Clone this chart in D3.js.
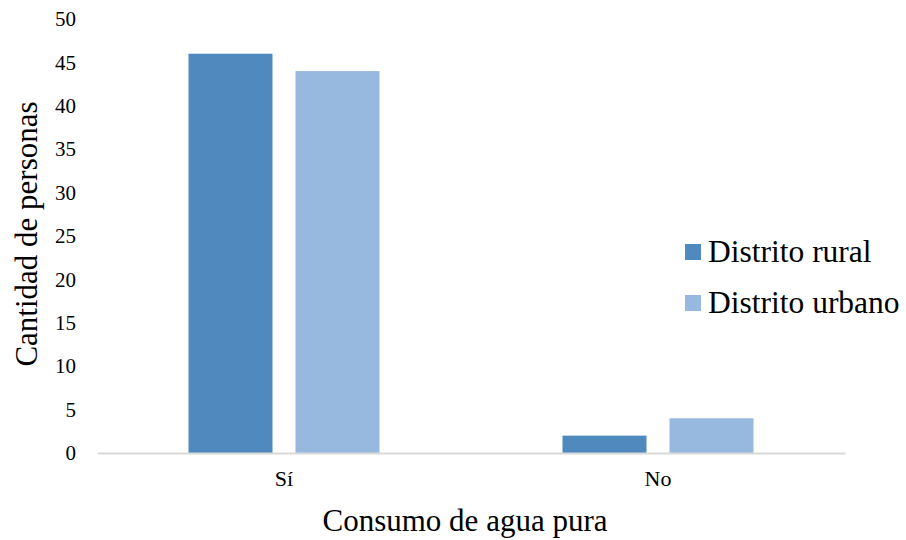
<!DOCTYPE html>
<html>
<head>
<meta charset="utf-8">
<script src="https://cdn.jsdelivr.net/npm/d3@7"></script>
<style>
  svg text { font-family: 'Times New Roman' !important; }
</style>
</head>
<body style="margin:0">
<svg id="chart" width="906" height="540"></svg>
<script>
// Categories, series and values
const categories = ["Sí", "No"];
const seriesNames = ["Distrito rural", "Distrito urbano"];
const rural = [46, 2];
const urbano = [44, 4];
const yTicks = [0, 5, 10, 15, 20, 25, 30, 35, 40, 45, 50];
const seriesColors = ["#4f89bd", "#98b9df"];

const svg = d3.select("#chart");
const plot = { left: 97, right: 845, top: 19, bottom: 453 };

const x0 = d3.scaleBand().domain(categories).range([plot.left, plot.right]).padding(0);
const x1 = d3.scaleBand().domain(seriesNames).range([0, x0.bandwidth()])
  .paddingInner(0.215).paddingOuter(0.855);
const y = d3.scaleLinear().domain([0, 50]).range([plot.bottom, plot.top]);

const rows = categories.map((c, i) => ({
  category: c,
  values: [
    { series: seriesNames[0], value: rural[i] },
    { series: seriesNames[1], value: urbano[i] }
  ]
}));

// Bars
const groups = svg.append("g").selectAll("g").data(rows).join("g")
  .attr("transform", d => `translate(${x0(d.category)},0)`);
groups.selectAll("rect").data(d => d.values).join("rect")
  .attr("x", d => x1(d.series))
  .attr("y", d => y(d.value))
  .attr("width", x1.bandwidth())
  .attr("height", d => y(0) - y(d.value))
  .attr("fill", (d, i) => seriesColors[i]);

// Baseline axis
const xAxis = d3.axisBottom(x0).tickSize(0).tickPadding(17);
const gx = svg.append("g").attr("transform", `translate(0,${y(0)})`).call(xAxis);
gx.attr("font-size", 22);
gx.select(".domain").attr("stroke", "#d9d9d9").attr("stroke-width", 2);
gx.selectAll("text").attr("fill", "#000").style("font-family", "'Times New Roman'");

// Value axis (labels only)
const yAxis = d3.axisLeft(y).tickValues(yTicks).tickSize(0).tickPadding(0);
const gy = svg.append("g").attr("transform", `translate(76,0)`).call(yAxis);
gy.attr("font-size", 21);
gy.select(".domain").remove();
gy.selectAll("text").attr("fill", "#000").style("font-family", "'Times New Roman'");

// Axis titles
svg.append("text")
  .attr("x", 465).attr("y", 531)
  .attr("text-anchor", "middle")
  .style("font-family", "'Times New Roman'")
  .attr("font-size", 31)
  .text("Consumo de agua pura");

svg.append("text")
  .attr("transform", "translate(37,234) rotate(-90)")
  .attr("text-anchor", "middle")
  .style("font-family", "'Times New Roman'")
  .attr("font-size", 31)
  .text("Cantidad de personas");

// Legend
const legend = svg.append("g");
seriesNames.forEach((name, i) => {
  const ly = 252 + i * 51;
  legend.append("rect")
    .attr("x", 685).attr("y", ly - 8)
    .attr("width", 16).attr("height", 16)
    .attr("fill", seriesColors[i]);
  legend.append("text")
    .attr("x", 708).attr("y", ly + 10)
    .style("font-family", "'Times New Roman'")
    .attr("font-size", 31.5)
    .text(name);
});
</script>
</body>
</html>
